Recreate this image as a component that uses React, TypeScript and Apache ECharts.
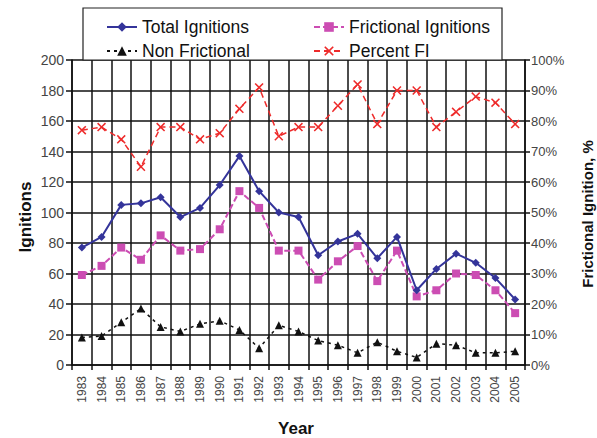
import React, { useEffect, useRef } from "react";
import * as echarts from "echarts";

const years = ["1983","1984","1985","1986","1987","1988","1989","1990","1991","1992","1993","1994","1995","1996","1997","1998","1999","2000","2001","2002","2003","2004","2005"];
const totalIgnitions = [77,84,105,106,110,97,103,118,137,114,100,97,72,81,86,70,84,49,63,73,67,57,43];
const frictionalIgnitions = [59,65,77,69,85,75,76,89,114,103,75,75,56,68,78,55,75,45,49,60,59,49,34];
const nonFrictional = [18,19,28,37,25,22,27,29,23,11,26,22,16,13,8,15,9,5,14,13,8,8,9];
const percentFI = [77,78,74,65,78,78,74,76,84,91,75,78,78,85,92,79,90,90,78,83,88,86,79];

const FONT = "'Liberation Sans', Arial, sans-serif";
const X_SYMBOL = "path://M0,1.2L1.2,0L5,3.8L8.8,0L10,1.2L6.2,5L10,8.8L8.8,10L5,6.2L1.2,10L0,8.8L3.8,5Z";

export default function App() {
  const ref = useRef<HTMLDivElement>(null);
  useEffect(() => {
    if (!ref.current) return;
    const chart = echarts.init(ref.current, null, { renderer: "svg" });
    const legendCommon = {
      orient: "vertical" as const,
      top: 13,
      itemWidth: 30,
      itemHeight: 12,
      itemGap: 6,
      textStyle: { fontSize: 17.5, color: "#111", fontFamily: FONT },
      z: 10,
    };
    chart.setOption({
      animation: false,
      backgroundColor: "#fff",
      textStyle: { fontFamily: FONT },
      grid: { left: 72, right: 72, top: 60, bottom: 73 },
      graphic: [
        {
          type: "rect",
          z: 1,
          shape: { x: 83, y: 8, width: 419, height: 52 },
          style: { fill: "#fff", stroke: "#222", lineWidth: 1.2 },
        },
        {
          type: "text",
          x: 25,
          y: 217,
          rotation: Math.PI / 2,
          style: { text: "Ignitions", font: `bold 17px ${FONT}`, fill: "#111", align: "center", verticalAlign: "middle" },
        },
        {
          type: "text",
          x: 587,
          y: 214,
          rotation: Math.PI / 2,
          style: { text: "Frictional Ignition, %", font: `bold 15px ${FONT}`, fill: "#111", align: "center", verticalAlign: "middle" },
        },
        {
          type: "text",
          x: 296,
          y: 428,
          style: { text: "Year", font: `bold 17px ${FONT}`, fill: "#111", align: "center", verticalAlign: "middle" },
        },
      ],
      legend: [
        { ...legendCommon, left: 101, data: ["Total Ignitions", "Non Frictional"] },
        { ...legendCommon, left: 308, data: ["Frictional Ignitions", "Percent FI"] },
      ],
      xAxis: {
        type: "category",
        data: years,
        boundaryGap: true,
        axisLine: { lineStyle: { color: "#111", width: 1.5 } },
        axisTick: { show: true, interval: 0, length: 5, lineStyle: { color: "#111", width: 1.5 } },
        axisLabel: { interval: 0, rotate: 90, fontSize: 12, color: "#444", margin: 11, fontFamily: FONT },
        splitLine: { show: true, interval: 0, lineStyle: { color: "#111", width: 1.5 } },
      },
      yAxis: [
        {
          type: "value",
          min: 0,
          max: 200,
          interval: 20,
          axisLine: { show: true, lineStyle: { color: "#111", width: 1.5 } },
          axisTick: { show: true, length: 6, lineStyle: { color: "#111", width: 1.5 } },
          axisLabel: { fontSize: 14, color: "#444", margin: 8, fontFamily: FONT },
          splitLine: { show: true, lineStyle: { color: "#111", width: 1.5 } },
        },
        {
          type: "value",
          min: 0,
          max: 100,
          interval: 10,
          position: "right",
          axisLine: { show: true, lineStyle: { color: "#111", width: 1.5 } },
          axisTick: { show: true, length: 5, lineStyle: { color: "#111", width: 1.5 } },
          axisLabel: { fontSize: 13, color: "#444", margin: 6, formatter: "{value}%", fontFamily: FONT },
          splitLine: { show: false },
        },
      ],
      series: [
        {
          name: "Total Ignitions",
          type: "line",
          data: totalIgnitions,
          symbol: "diamond",
          symbolSize: 8,
          itemStyle: { color: "#34349a" },
          lineStyle: { color: "#34349a", width: 2 },
          z: 5,
        },
        {
          name: "Frictional Ignitions",
          type: "line",
          data: frictionalIgnitions,
          symbol: "rect",
          symbolSize: 8,
          itemStyle: { color: "#cc4db3" },
          lineStyle: { color: "#cc4db3", width: 2, type: [6, 3] },
          z: 4,
        },
        {
          name: "Non Frictional",
          type: "line",
          data: nonFrictional,
          symbol: "triangle",
          symbolSize: 8,
          itemStyle: { color: "#111" },
          lineStyle: { color: "#111", width: 1.5, type: [3, 4] },
          z: 4,
        },
        {
          name: "Percent FI",
          type: "line",
          yAxisIndex: 1,
          data: percentFI,
          symbol: X_SYMBOL,
          symbolSize: 9,
          itemStyle: { color: "#ee2b2b" },
          lineStyle: { color: "#ee2b2b", width: 1.5, type: [6, 4] },
          z: 4,
        },
      ],
    });
    return () => chart.dispose();
  }, []);
  return (
    <div
      ref={ref}
      style={{ position: "absolute", left: 0, top: 0, width: 597, height: 438, background: "#fff" }}
    />
  );
}
